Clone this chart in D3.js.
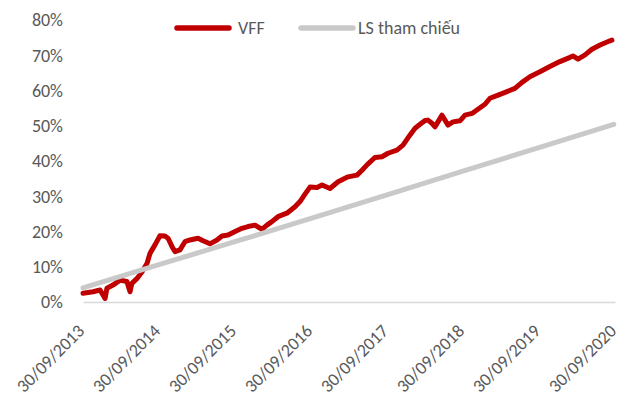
<!DOCTYPE html>
<html>
<head>
<meta charset="utf-8">
<script src="https://cdn.jsdelivr.net/npm/d3@7"></script>
<style>
  body { margin: 0; background: #fff; }
  text { font-family: Carlito, Calibri, Lato, sans-serif; fill: #595959; }
</style>
</head>
<body>
<div id="chart"></div>
<script>
// chart size
var w = 621;
var h = 405;

// VFF cumulative return (%)
var vffDates = [
  "2013-09-30","2013-11-17","2013-12-21","2014-01-14","2014-01-23","2014-02-21","2014-03-27","2014-04-29",
  "2014-05-14","2014-05-23","2014-06-17","2014-07-11","2014-08-04","2014-08-18","2014-09-11","2014-10-05",
  "2014-10-29","2014-11-13","2014-12-02","2014-12-16","2015-01-09","2015-02-02","2015-02-26","2015-04-06",
  "2015-04-30","2015-06-02","2015-07-06","2015-07-30","2015-08-28","2015-10-01","2015-11-03","2015-12-02",
  "2016-01-05","2016-02-07","2016-03-02","2016-03-26","2016-04-24","2016-06-06","2016-07-15","2016-08-08",
  "2016-09-01","2016-09-25","2016-10-29","2016-11-22","2016-12-30","2017-02-07","2017-03-27","2017-05-09",
  "2017-06-02","2017-06-26","2017-08-03","2017-09-06","2017-10-05","2017-11-17","2017-12-16","2018-01-19",
  "2018-02-12","2018-03-08","2018-04-01","2018-04-15","2018-05-04","2018-05-19","2018-06-02","2018-06-21",
  "2018-07-06","2018-07-20","2018-08-13","2018-09-16","2018-10-10","2018-11-13","2018-12-11","2019-01-14",
  "2019-02-07","2019-03-18","2019-04-30","2019-06-07","2019-07-11","2019-08-18","2019-10-05","2019-11-22",
  "2020-01-09","2020-02-27","2020-03-12","2020-04-05","2020-05-09","2020-06-11","2020-07-20","2020-09-06",
  "2020-09-15"
];
var vffValues = [
  2.5, 2.9, 3.4, 1.0, 3.9, 4.8, 6.2, 5.8,
  2.9, 5.3, 6.7, 8.6, 11.0, 13.8, 16.2, 18.8,
  18.7, 18.1, 15.7, 14.3, 14.8, 17.1, 17.6, 18.1,
  17.4, 16.5, 17.6, 18.7, 19.0, 20.0, 20.9, 21.4,
  21.8, 20.6, 21.8, 22.8, 24.2, 25.2, 27.0, 28.5,
  30.6, 32.6, 32.5, 33.2, 32.2, 34.1, 35.5, 36.0,
  37.4, 38.9, 41.0, 41.2, 42.2, 43.1, 44.5, 47.4,
  49.3, 50.4, 51.5, 51.6, 50.7, 49.7, 51.1, 53.0,
  51.6, 50.2, 51.1, 51.4, 53.0, 53.5, 54.7, 56.1,
  57.8, 58.7, 59.7, 60.6, 62.3, 63.9, 65.3, 66.8,
  68.2, 69.4, 69.8, 68.9, 70.1, 71.7, 72.9, 74.1,
  74.3
];

// reference rate ("LS tham chiếu") cumulative (%)
var refDates = ["2013-09-30","2014-09-30","2015-09-30","2016-09-30","2017-09-30","2018-09-30","2019-09-30","2020-09-24"];
var refValues = [4.0, 10.6, 17.1, 23.7, 30.4, 37.1, 43.8, 50.4];

// axis ticks
var xTickLabels = ["30/09/2013","30/09/2014","30/09/2015","30/09/2016","30/09/2017","30/09/2018","30/09/2019","30/09/2020"];
var yTicks = [0, 10, 20, 30, 40, 50, 60, 70, 80];

var seriesNames = ["VFF", "LS tham chiếu"];
var seriesColors = ["#c00000", "#c9c9c9"];

var parseDate = d3.timeParse("%Y-%m-%d");
var parseTick = d3.timeParse("%d/%m/%Y");

var vff = vffDates.map(function(d, i) { return { date: parseDate(d), value: vffValues[i] }; });
var ref = refDates.map(function(d, i) { return { date: parseDate(d), value: refValues[i] }; });
var tickDates = xTickLabels.map(function(d) { return parseTick(d); });

var x = d3.scaleTime()
  .domain([tickDates[0], tickDates[tickDates.length - 1]])
  .range([83, 615]);

var y = d3.scaleLinear()
  .domain([0, 80])
  .range([302, 20]);

var svg = d3.select("#chart")
  .append("svg")
  .attr("width", w)
  .attr("height", h);

// y axis labels (no line, no ticks)
svg.selectAll(".ylab")
  .data(yTicks)
  .enter()
  .append("text")
  .attr("class", "ylab")
  .attr("x", 63)
  .attr("y", function(d) { return y(d); })
  .attr("dy", "0.36em")
  .attr("text-anchor", "end")
  .style("font-size", "18px")
  .text(function(d) { return d + "%"; });

// x axis
var xAxis = svg.append("g")
  .attr("transform", "translate(0," + y(0) + ")")
  .call(d3.axisBottom(x)
    .tickValues(tickDates)
    .tickSize(0)
    .tickFormat(function(d, i) { return xTickLabels[i]; }));

xAxis.select(".domain")
  .attr("stroke", "#d9d9d9")
  .attr("stroke-width", 1.5);

xAxis.selectAll("text")
  .attr("x", 0)
  .attr("y", 0)
  .attr("dy", 0)
  .attr("text-anchor", "end")
  .attr("transform", "translate(2,30) rotate(-45)")
  .style("font-size", "18px")
  .style("font-family", "Carlito, Calibri, Lato, sans-serif")
  .attr("fill", "#595959");

var line = d3.line()
  .x(function(d) { return x(d.date); })
  .y(function(d) { return y(d.value); });

// VFF first, reference line sits on top
svg.append("path")
  .datum(vff)
  .attr("fill", "none")
  .attr("stroke", seriesColors[0])
  .attr("stroke-width", 5)
  .attr("stroke-linejoin", "round")
  .attr("stroke-linecap", "round")
  .attr("d", line);

svg.append("path")
  .datum(ref)
  .attr("fill", "none")
  .attr("stroke", seriesColors[1])
  .attr("stroke-width", 5)
  .attr("stroke-linecap", "round")
  .attr("d", line);

// legend
var legendX = [177, 301];
var legend = svg.selectAll(".legend")
  .data(seriesNames)
  .enter()
  .append("g")
  .attr("class", "legend")
  .attr("transform", function(d, i) { return "translate(" + legendX[i] + ",28)"; });

legend.append("line")
  .attr("x1", 0)
  .attr("x2", 52)
  .attr("y1", 0)
  .attr("y2", 0)
  .attr("stroke", function(d, i) { return seriesColors[i]; })
  .attr("stroke-width", 5.5)
  .attr("stroke-linecap", "round");

legend.append("text")
  .attr("x", function(d, i) { return i == 0 ? 61 : 57; })
  .attr("y", 0)
  .attr("dy", "0.36em")
  .style("font-size", "18px")
  .text(function(d) { return d; });
</script>
</body>
</html>
